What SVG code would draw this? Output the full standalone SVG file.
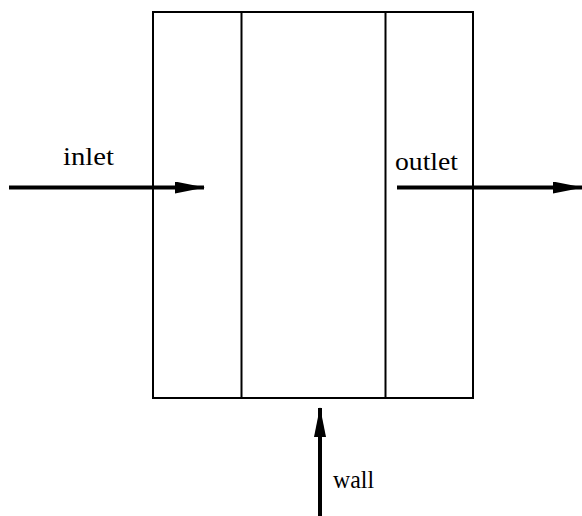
<svg xmlns="http://www.w3.org/2000/svg" width="582" height="516" viewBox="0 0 582 516">
  <style>
    .frame { fill: none; stroke: #000; stroke-width: 2; }
    .flow { stroke: #000; stroke-width: 4; fill: none; }
    .label { font-family: "Liberation Serif", "DejaVu Serif", serif; font-size: 26px; fill: #000; }
  </style>
  <defs>
    <marker id="head" viewBox="0 0 30 12" refX="29" refY="6" markerWidth="30" markerHeight="12" markerUnits="userSpaceOnUse" orient="auto">
      <path d="M0,0 L30,6 L0,12 Z" fill="#000"/>
    </marker>
  </defs>
  <rect width="582" height="516" fill="#fff"/>
  <g id="vessel">
    <rect class="frame" x="153" y="12" width="320" height="386"/>
    <line class="frame" x1="241.5" y1="12" x2="241.5" y2="398"/>
    <line class="frame" x1="385.5" y1="12" x2="385.5" y2="398"/>
  </g>
  <g id="connectors">
    <line class="flow" x1="9" y1="187.5" x2="204" y2="187.5" marker-end="url(#head)"/>
    <line class="flow" x1="397" y1="187.5" x2="582" y2="187.5" marker-end="url(#head)"/>
    <line class="flow" x1="320" y1="516" x2="320" y2="408" marker-end="url(#head)"/>
  </g>
  <g id="inlet">
    <text class="label" x="63" y="165" textLength="51" lengthAdjust="spacingAndGlyphs">inlet</text>
  </g>
  <g id="outlet">
    <text class="label" x="395" y="170" textLength="63" lengthAdjust="spacingAndGlyphs">outlet</text>
  </g>
  <g id="wall">
    <text class="label" x="333" y="488" textLength="41" lengthAdjust="spacingAndGlyphs">wall</text>
  </g>
</svg>
